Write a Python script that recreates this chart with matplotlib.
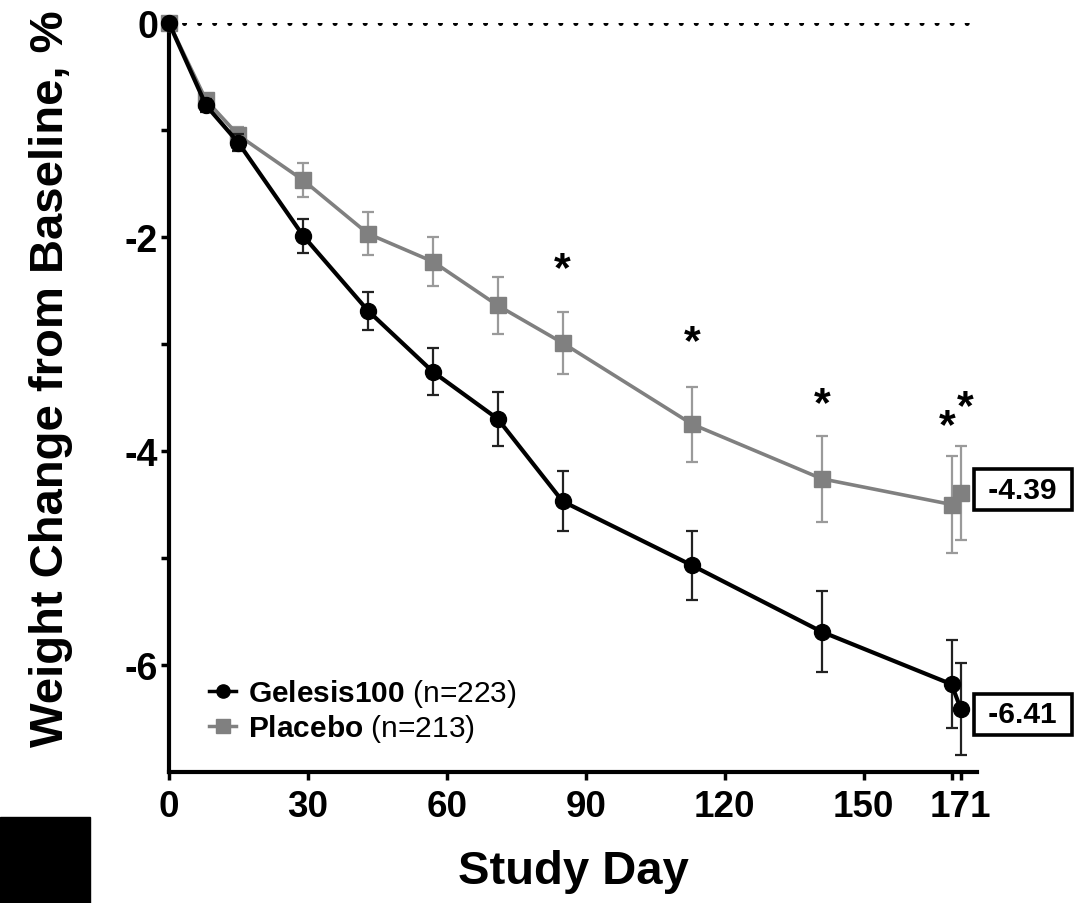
import matplotlib
matplotlib.use("Agg")
import matplotlib.pyplot as plt
from matplotlib.lines import Line2D
from matplotlib.patches import Rectangle

plt.rcParams['font.family'] = ['Liberation Sans', 'DejaVu Sans']
plt.rcParams['mathtext.fontset'] = 'custom'
plt.rcParams['mathtext.rm'] = 'Liberation Sans'
plt.rcParams['mathtext.bf'] = 'Liberation Sans:bold'

# ---- data ----
days = [0, 8, 15, 29, 43, 57, 71, 85, 113, 141, 169, 171]
gelesis = [0, -0.77, -1.12, -1.99, -2.69, -3.26, -3.70, -4.47, -5.07, -5.69, -6.18, -6.41]
gelesis_se = [0, 0.06, 0.08, 0.16, 0.18, 0.22, 0.25, 0.28, 0.32, 0.38, 0.41, 0.43]
placebo = [0, -0.72, -1.05, -1.47, -1.97, -2.23, -2.64, -2.99, -3.75, -4.26, -4.50, -4.39]
placebo_se = [0, 0.06, 0.08, 0.16, 0.20, 0.23, 0.27, 0.29, 0.35, 0.40, 0.45, 0.44]

star_days = [85, 113, 141, 168, 172]
star_y = [-2.30, -2.98, -3.56, -3.77, -3.59]

end_labels = ['-4.39', '-6.41']
end_label_y = [-4.36, -6.46]
end_label_x = 184.4

xticks = [0, 30, 60, 90, 120, 150, 171]
xtick_labels = ['0', '30', '60', '90', '120', '150', '171']
yticks = [0, -2, -4, -6]
ytick_labels = ['0', '-2', '-4', '-6']

legend_labels = [r'$\mathbf{Gelesis100}$ (n=223)', r'$\mathbf{Placebo}$ (n=213)']

GRAY = '#808080'
GRAY_ERR = '#9a9a9a'

fig = plt.figure(figsize=(10.81, 9.04), dpi=100)
ax = fig.add_axes([169/1081, 1-773/904, (977-169)/1081, (773-24)/904])
ax.set_xlim(0, 174.5)
ax.set_ylim(-7, 0)

# zero reference line
ax.axhline(0, color='black', lw=3.6, linestyle=(0, (0.01, 3.0)),
           dash_capstyle='round', zorder=1)

pc = ax.errorbar(days, placebo, yerr=placebo_se, color=GRAY, ecolor=GRAY_ERR,
                 marker='s', ms=11.5, lw=2.6, elinewidth=1.6, capsize=4, capthick=1.6,
                 zorder=3)
gc = ax.errorbar(days, gelesis, yerr=gelesis_se, color='black', ecolor='#222222',
                 marker='o', ms=11.5, lw=3.0, elinewidth=1.6, capsize=4, capthick=1.6,
                 zorder=4)
for cont in (pc, gc):
    for art in cont.get_children():
        art.set_clip_on(False)

for sx, sy in zip(star_days, star_y):
    ax.text(sx, sy, '*', ha='center', va='center', fontsize=31, fontweight='bold')

for lab, ly in zip(end_labels, end_label_y):
    ax.text(end_label_x, ly, ' ' + lab + ' ', ha='center', va='center', fontsize=21.5,
            fontweight='bold', clip_on=False,
            bbox=dict(boxstyle='square,pad=0.22', fc='white', ec='black', lw=2.6))

# axes styling
for s in ('top', 'right'):
    ax.spines[s].set_visible(False)
for s in ('left', 'bottom'):
    ax.spines[s].set_linewidth(3)

ax.set_xticks(xticks)
ax.set_xticklabels(xtick_labels)
ax.set_xticks([169], minor=True)
ax.set_yticks(yticks)
ax.set_yticklabels(ytick_labels)
ax.set_yticks([-1, -3, -5], minor=True)
ax.tick_params(axis='both', which='both', direction='out', width=2.5, length=6)
ax.tick_params(axis='x', labelsize=26.5, pad=6)
ax.tick_params(axis='y', labelsize=27, pad=2)
for t in ax.get_xticklabels() + ax.get_yticklabels():
    t.set_fontweight('bold')

ax.set_xlabel('Study Day', fontsize=34, fontweight='bold')
ax.xaxis.set_label_coords(0.5, -0.103)
ax.set_ylabel('Weight Change from Baseline, %', fontsize=34, fontweight='bold')
ax.yaxis.set_label_coords(-0.119, 0.527)

handles = [Line2D([], [], color='black', marker='o', ms=9.5, lw=2.5),
           Line2D([], [], color=GRAY, marker='s', ms=9.5, lw=2.5)]
ax.legend(handles, legend_labels, loc='lower left', bbox_to_anchor=(0.035, 0.021),
          frameon=False, fontsize=21.5, handlelength=0.9, handletextpad=0.4,
          labelspacing=0.1, borderaxespad=0)

fig.patches.append(Rectangle((0, 0), 90/1081, 86/904, transform=fig.transFigure,
                             color='black', zorder=10))

fig.savefig('out.png', dpi=100)
